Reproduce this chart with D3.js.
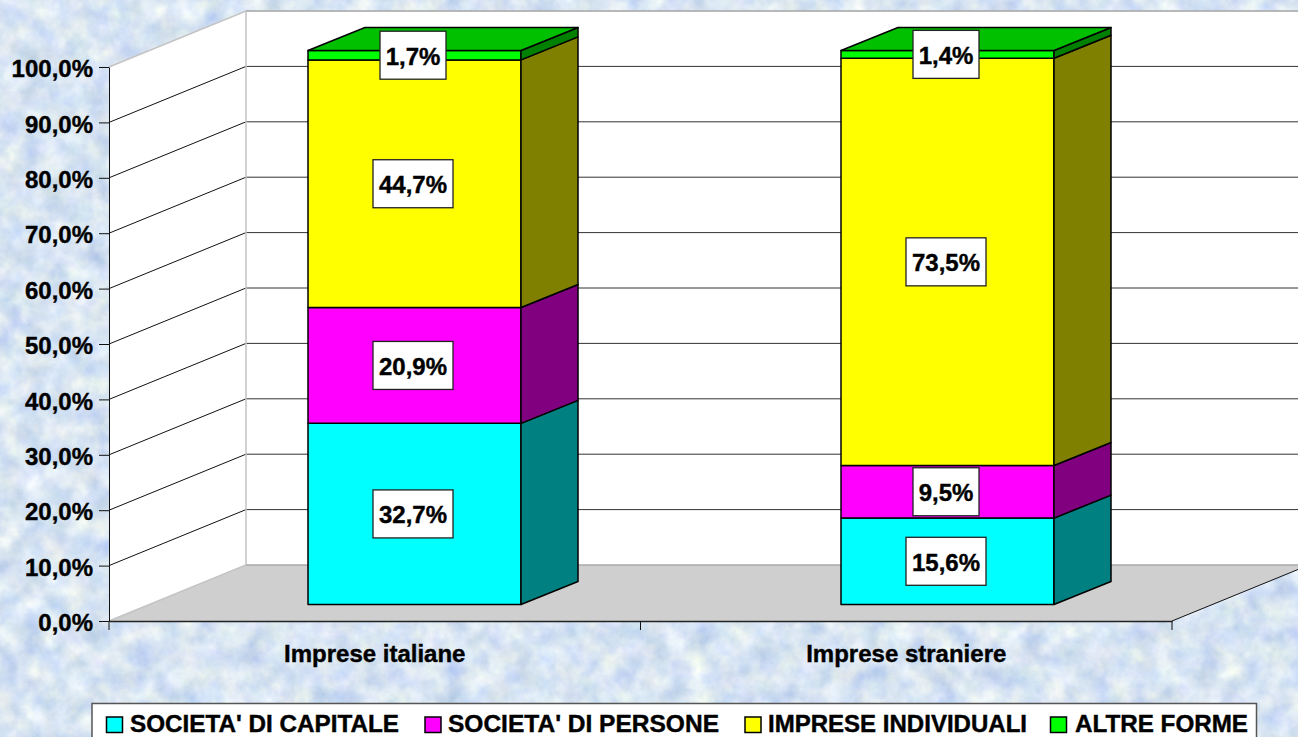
<!DOCTYPE html>
<html>
<head>
<meta charset="utf-8">
<script src="https://cdn.jsdelivr.net/npm/d3@7"></script>
<style>
  html, body { margin: 0; padding: 0; overflow: hidden; background: #d8e6f3; }
  text { font-family: "Liberation Sans", Arial, sans-serif; font-weight: bold; fill: #000; stroke: #000; stroke-width: 0.4px; }
</style>
</head>
<body>
<div id="chart"></div>
<script>
// DATA
const categories = ['Imprese italiane', 'Imprese straniere'];
const seriesNames = ["SOCIETA' DI CAPITALE", "SOCIETA' DI PERSONE", 'IMPRESE INDIVIDUALI', 'ALTRE FORME'];
const capitale = [32.7, 15.6];
const persone = [20.9, 9.5];
const individuali = [44.7, 73.5];
const altre = [1.7, 1.4];
const yTicks = [0, 10, 20, 30, 40, 50, 60, 70, 80, 90, 100];

// colors: front, side, top
const fronts = ['#00ffff', '#ff00ff', '#ffff00', '#00ff00'];
const sides = ['#008080', '#800080', '#808000', '#008000'];
const topColor = '#00c000';

// GRAPH CONSTANTS
const w = 1298;
const h = 737;
const axisLeft = 109;
const axisRight = 1172;
const y0 = 621;
const y100 = 67;
const wallDx = 137;   // depth of the 3d box
const wallDy = 56;
const barDx = 57;     // depth of a bar
const barDy = 23;
const comma = s => s.replace('.', ',');

// SCALES
const xScale = d3.scaleBand().domain(categories).range([axisLeft, axisRight]);
// bars sit a touch wider apart than the axis bands
const barScale = d3.scaleBand().domain(categories).range([axisLeft - 1, axisRight + 2]);
const yScale = d3.scaleLinear().domain([0, 100]).range([y0, y100]);
const barWidth = 213;
const barOffX = (wallDx - barDx) / 2;
const barOffY = (wallDy - barDy) / 2;

const svg = d3.select('#chart').append('svg')
  .attr('width', w).attr('height', h)
  .style('display', 'block');

// BACKGROUND TEXTURE
const defs = svg.append('defs');
const filter = defs.append('filter').attr('id', 'paper')
  .attr('x', 0).attr('y', 0).attr('width', '100%').attr('height', '100%')
  .attr('color-interpolation-filters', 'sRGB');
filter.append('feTurbulence')
  .attr('type', 'fractalNoise').attr('baseFrequency', 0.045)
  .attr('numOctaves', 5).attr('seed', 7);
filter.append('feColorMatrix').attr('type', 'matrix')
  .attr('values', '0.3 0.15 0 0 0.62  0.2 0.15 0 0 0.72  0.05 0.05 0.1 0 0.85  0 0 0 0 1');
svg.append('rect').attr('width', w).attr('height', h).attr('filter', 'url(#paper)');

const line = d3.line();
const poly = pts => line(pts) + 'Z';

// WALLS AND FLOOR
const wallTop = yScale(100) - wallDy;
const wallBottom = y0 - wallDy;
svg.append('path')
  .attr('d', poly([[axisLeft, yScale(100)], [axisLeft + wallDx, wallTop], [axisLeft + wallDx, wallBottom], [axisLeft, y0]]))
  .attr('fill', '#fff');
svg.append('rect')
  .attr('x', axisLeft + wallDx).attr('y', wallTop)
  .attr('width', w - axisLeft - wallDx).attr('height', wallBottom - wallTop)
  .attr('fill', '#fff');
svg.append('path')
  .attr('d', poly([[axisLeft, y0], [axisLeft + wallDx, wallBottom], [axisRight + wallDx, wallBottom], [axisRight, y0]]))
  .attr('fill', '#cfcfcf');

// GRIDLINES
const grid = svg.append('g');
grid.selectAll('path')
  .data(yTicks.filter(t => t > 0 && t < 100))
  .enter().append('path')
  .attr('d', t => line([[axisLeft, yScale(t)], [axisLeft + wallDx, yScale(t) - wallDy]]))
  .attr('fill', 'none').attr('stroke', '#111').attr('stroke-width', 1);
grid.selectAll('line')
  .data(yTicks.filter(t => t > 0))
  .enter().append('line')
  .attr('x1', axisLeft + wallDx).attr('x2', w)
  .attr('y1', t => yScale(t) - wallDy).attr('y2', t => yScale(t) - wallDy)
  .attr('stroke', '#333').attr('stroke-width', 1);

// WALL EDGES
svg.append('path')
  .attr('d', line([[axisLeft, yScale(100)], [axisLeft + wallDx, wallTop], [w, wallTop]]))
  .attr('fill', 'none').attr('stroke', '#c4c4c4').attr('stroke-width', 1.5);
svg.append('path')
  .attr('d', line([[axisLeft, y0], [axisLeft + wallDx, wallBottom], [axisLeft + wallDx, wallTop]]))
  .attr('fill', 'none').attr('stroke', '#c4c4c4').attr('stroke-width', 1.5);
svg.append('line')
  .attr('x1', axisLeft + wallDx).attr('x2', w)
  .attr('y1', wallBottom).attr('y2', wallBottom)
  .attr('stroke', '#aaa').attr('stroke-width', 1.5);
svg.append('path')
  .attr('d', line([[axisRight, y0], [axisRight + wallDx, wallBottom]]))
  .attr('fill', 'none').attr('stroke', '#111').attr('stroke-width', 1);

// BARS
const stack = d3.stack().keys(d3.range(4))
  .value((row, k) => row[k]);
const rows = categories.map((c, i) => [capitale[i], persone[i], individuali[i], altre[i]]);
const stacked = stack(rows);

const barX = i => barScale(categories[i]) + (barScale.bandwidth() - barWidth) / 2 + barOffX;
const barY = v => yScale(v) - barOffY;

const bars = svg.append('g').attr('stroke', '#000').attr('stroke-width', 1.5).attr('stroke-linejoin', 'round');
const labels = [];
stacked.forEach((layer, k) => {
  layer.forEach((seg, i) => {
    const x = barX(i);
    const yB = barY(seg[0]);
    const yT = barY(seg[1]);
    bars.append('rect')
      .attr('x', x).attr('y', yT).attr('width', barWidth).attr('height', yB - yT)
      .attr('fill', fronts[k]);
    bars.append('path')
      .attr('d', poly([[x + barWidth, yB], [x + barWidth + barDx, yB - barDy], [x + barWidth + barDx, yT - barDy], [x + barWidth, yT]]))
      .attr('fill', sides[k]);
    if (k === 3) {
      bars.append('path')
        .attr('d', poly([[x, yT], [x + barDx, yT - barDy], [x + barWidth + barDx, yT - barDy], [x + barWidth, yT]]))
        .attr('fill', topColor);
    }
    labels.push({ x: x + barWidth / 2 - 1.5, y: (yB + yT) / 2, text: comma((seg[1] - seg[0]).toFixed(1)) + '%' });
  });
});

// DATA LABELS
const labelG = svg.selectAll('g.label')
  .data(labels)
  .enter().append('g')
  .attr('class', 'label')
  .attr('transform', d => `translate(${d.x}, ${d.y})`);
labelG.append('rect')
  .attr('x', d => -(d.text.length === 5 ? 40 : 33))
  .attr('width', d => d.text.length === 5 ? 80 : 66)
  .attr('y', -24).attr('height', 48)
  .attr('fill', '#fff').attr('stroke', '#222').attr('stroke-width', 1.3);
labelG.append('text')
  .attr('text-anchor', 'middle').attr('y', 9.5)
  .attr('font-size', 24)
  .text(d => d.text);

// AXES
const yAxis = d3.axisLeft(yScale)
  .tickValues(yTicks)
  .tickSize(10).tickSizeOuter(0).tickPadding(6)
  .tickFormat(t => comma(t.toFixed(1)) + '%');
const yG = svg.append('g')
  .attr('transform', `translate(${axisLeft}, 0)`)
  .call(yAxis);
yG.selectAll('text').attr('font-size', 24).attr('font-family', null).attr('dy', '0.4em');
yG.selectAll('line').attr('stroke', '#111');
yG.select('.domain').attr('stroke', '#111');

const xAxis = d3.axisBottom(xScale).tickSize(0).tickPadding(24).tickSizeOuter(0);
const xG = svg.append('g')
  .attr('transform', `translate(0, ${y0})`)
  .call(xAxis);
xG.selectAll('text').attr('font-size', 24).attr('font-family', null);
xG.select('.domain').attr('stroke', '#222').attr('stroke-width', 1.5);
// tick marks sit between the categories
xG.selectAll('line.sep')
  .data(d3.range(3))
  .enter().append('line')
  .attr('class', 'sep')
  .attr('x1', i => axisLeft + i * xScale.bandwidth())
  .attr('x2', i => axisLeft + i * xScale.bandwidth())
  .attr('y1', 0).attr('y2', 9)
  .attr('stroke', '#111');

// LEGEND
const legendItems = [
  { swatch: 106.5, text: 130, width: 269 },
  { swatch: 425, text: 448, width: 271 },
  { swatch: 745, text: 768, width: 259 },
  { swatch: 1050.5, text: 1075, width: 173 }
];
svg.append('rect')
  .attr('x', 92).attr('y', 703.5).attr('width', 1164.5).attr('height', 40)
  .attr('fill', '#fff').attr('stroke', '#555').attr('stroke-width', 1.5);
const legend = svg.selectAll('g.legend')
  .data(seriesNames)
  .enter().append('g')
  .attr('class', 'legend');
legend.append('rect')
  .attr('x', (d, i) => legendItems[i].swatch).attr('y', 717)
  .attr('width', 16).attr('height', 15.5)
  .attr('fill', (d, i) => fronts[i])
  .attr('stroke', '#000').attr('stroke-width', 1.5);
legend.append('text')
  .attr('x', (d, i) => legendItems[i].text).attr('y', 732)
  .attr('font-size', 23)
  .attr('textLength', (d, i) => legendItems[i].width)
  .attr('lengthAdjust', 'spacingAndGlyphs')
  .text(d => d);
</script>
</body>
</html>
